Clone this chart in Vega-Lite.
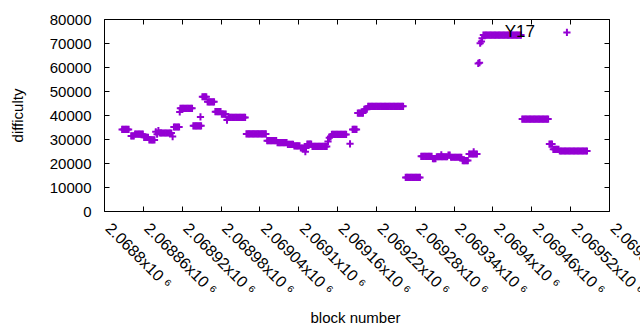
{
 "$schema": "https://vega.github.io/schema/vega-lite/v6.json",
 "width": 505,
 "height": 192,
 "autosize": {"type": "none"},
 "padding": {"left": 104, "top": 19, "right": 31, "bottom": 119},
 "background": "white",
 "config": {"view": {"stroke": "#000", "strokeWidth": 1}, "font": "Liberation Sans"},
 "datasets": {
  "pts": [
   {"b":2068828,"d":34000},{"b":2068830,"d":34000},{"b":2068832,"d":34000},{"b":2068834,"d":34000},{"b":2068836,"d":34000},{"b":2068838,"d":34000},
   {"b":2068842,"d":31300},{"b":2068844,"d":31300},{"b":2068846,"d":31300},
   {"b":2068848,"d":32000},{"b":2068850,"d":32000},{"b":2068852,"d":32000},{"b":2068854,"d":32000},{"b":2068856,"d":32000},{"b":2068858,"d":32000},{"b":2068860,"d":32000},
   {"b":2068862,"d":30700},{"b":2068864,"d":30700},{"b":2068866,"d":30700},{"b":2068868,"d":30700},
   {"b":2068870,"d":29600},{"b":2068872,"d":29600},{"b":2068874,"d":29600},{"b":2068876,"d":29600},{"b":2068878,"d":29600},
   {"b":2068880,"d":33000},{"b":2068882,"d":32000},{"b":2068884,"d":33500},{"b":2068886,"d":32500},
   {"b":2068888,"d":32500},{"b":2068890,"d":32500},{"b":2068892,"d":32500},{"b":2068894,"d":32500},{"b":2068896,"d":32500},{"b":2068898,"d":32500},{"b":2068900,"d":32500},{"b":2068902,"d":32500},{"b":2068904,"d":32500},{"b":2068906,"d":31000},
   {"b":2068908,"d":35000},{"b":2068910,"d":35000},{"b":2068912,"d":35000},{"b":2068914,"d":35000},{"b":2068916,"d":35000},
   {"b":2068917,"d":41300},
   {"b":2068918,"d":42800},{"b":2068920,"d":42800},{"b":2068922,"d":42800},{"b":2068924,"d":42800},{"b":2068926,"d":42800},{"b":2068928,"d":42800},{"b":2068930,"d":42800},{"b":2068932,"d":42800},{"b":2068934,"d":42800},{"b":2068936,"d":42800},
   {"b":2068938,"d":35500},{"b":2068940,"d":35500},{"b":2068942,"d":35500},{"b":2068944,"d":35500},{"b":2068946,"d":35500},{"b":2068948,"d":35500},{"b":2068950,"d":35500},
   {"b":2068949,"d":39200},
   {"b":2068952,"d":47600},{"b":2068954,"d":47600},{"b":2068956,"d":47600},{"b":2068958,"d":47600},
   {"b":2068960,"d":45500},{"b":2068962,"d":45500},{"b":2068964,"d":45500},{"b":2068966,"d":45500},{"b":2068968,"d":45500},{"b":2068970,"d":45500},
   {"b":2068972,"d":41400},{"b":2068974,"d":41400},{"b":2068976,"d":41400},{"b":2068978,"d":41400},{"b":2068980,"d":41400},
   {"b":2068982,"d":40400},{"b":2068984,"d":40400},{"b":2068986,"d":40400},{"b":2068988,"d":40400},
   {"b":2068990,"d":37900},
   {"b":2068992,"d":39000},{"b":2068994,"d":39000},{"b":2068996,"d":39000},{"b":2068998,"d":39000},{"b":2069000,"d":39000},{"b":2069002,"d":39000},{"b":2069004,"d":39000},{"b":2069006,"d":39000},{"b":2069008,"d":39000},{"b":2069010,"d":39000},{"b":2069012,"d":39000},{"b":2069014,"d":39000},{"b":2069016,"d":39000},{"b":2069018,"d":39000},
   {"b":2069020,"d":32100},{"b":2069022,"d":32100},{"b":2069024,"d":32100},{"b":2069026,"d":32100},{"b":2069028,"d":32100},{"b":2069030,"d":32100},{"b":2069032,"d":32100},{"b":2069034,"d":32100},{"b":2069036,"d":32100},{"b":2069038,"d":32100},{"b":2069040,"d":32100},{"b":2069042,"d":32100},{"b":2069044,"d":32100},{"b":2069046,"d":32100},{"b":2069048,"d":32100},{"b":2069050,"d":32100},
   {"b":2069052,"d":29300},{"b":2069054,"d":29300},{"b":2069056,"d":29300},{"b":2069058,"d":29300},{"b":2069060,"d":29300},{"b":2069062,"d":29300},{"b":2069064,"d":29300},{"b":2069066,"d":29300},
   {"b":2069068,"d":28500},{"b":2069070,"d":28500},{"b":2069072,"d":28500},{"b":2069074,"d":28500},{"b":2069076,"d":28500},{"b":2069078,"d":28500},{"b":2069080,"d":28500},{"b":2069082,"d":28500},
   {"b":2069084,"d":27800},{"b":2069086,"d":27800},{"b":2069088,"d":27800},{"b":2069090,"d":27800},{"b":2069092,"d":27800},
   {"b":2069094,"d":27100},{"b":2069096,"d":27100},{"b":2069098,"d":27100},{"b":2069100,"d":27100},{"b":2069102,"d":27100},
   {"b":2069104,"d":26250},{"b":2069106,"d":26250},{"b":2069108,"d":26250},{"b":2069110,"d":26250},{"b":2069112,"d":26250},
   {"b":2069111,"d":24700},
   {"b":2069114,"d":27900},{"b":2069116,"d":27900},{"b":2069118,"d":27900},{"b":2069120,"d":27900},
   {"b":2069122,"d":26900},{"b":2069124,"d":26900},{"b":2069126,"d":26900},{"b":2069128,"d":26900},{"b":2069130,"d":26900},{"b":2069132,"d":26900},{"b":2069134,"d":26900},{"b":2069136,"d":26900},{"b":2069138,"d":26900},{"b":2069140,"d":26900},{"b":2069142,"d":26900},{"b":2069144,"d":26900},
   {"b":2069146,"d":29000},{"b":2069148,"d":30500},{"b":2069150,"d":31000},
   {"b":2069152,"d":31900},{"b":2069154,"d":31900},{"b":2069156,"d":31900},{"b":2069158,"d":31900},{"b":2069160,"d":31900},{"b":2069162,"d":31900},{"b":2069164,"d":31900},{"b":2069166,"d":31900},{"b":2069168,"d":31900},{"b":2069170,"d":31900},{"b":2069172,"d":31900},{"b":2069174,"d":31900},
   {"b":2069180,"d":28000},
   {"b":2069184,"d":34000},{"b":2069186,"d":34000},{"b":2069188,"d":34000},{"b":2069190,"d":34000},
   {"b":2069192,"d":40800},{"b":2069194,"d":40800},{"b":2069196,"d":40800},{"b":2069198,"d":40800},{"b":2069200,"d":40800},
   {"b":2069202,"d":42400},{"b":2069204,"d":42400},{"b":2069206,"d":42400},
   {"b":2069208,"d":43600},{"b":2069210,"d":43600},{"b":2069212,"d":43600},{"b":2069214,"d":43600},{"b":2069216,"d":43600},{"b":2069218,"d":43600},{"b":2069220,"d":43600},{"b":2069222,"d":43600},{"b":2069224,"d":43600},{"b":2069226,"d":43600},{"b":2069228,"d":43600},{"b":2069230,"d":43600},{"b":2069232,"d":43600},{"b":2069234,"d":43600},{"b":2069236,"d":43600},{"b":2069238,"d":43600},{"b":2069240,"d":43600},{"b":2069242,"d":43600},{"b":2069244,"d":43600},{"b":2069246,"d":43600},{"b":2069248,"d":43600},{"b":2069250,"d":43600},{"b":2069252,"d":43600},{"b":2069254,"d":43600},{"b":2069256,"d":43600},{"b":2069258,"d":43600},{"b":2069260,"d":43600},{"b":2069262,"d":43600},
   {"b":2069266,"d":14000},{"b":2069268,"d":14000},{"b":2069270,"d":14000},{"b":2069272,"d":14000},{"b":2069274,"d":14000},{"b":2069276,"d":14000},{"b":2069278,"d":14000},{"b":2069280,"d":14000},{"b":2069282,"d":14000},{"b":2069284,"d":14000},{"b":2069286,"d":14000},{"b":2069288,"d":14000},
   {"b":2069290,"d":22800},{"b":2069292,"d":22800},{"b":2069294,"d":22800},{"b":2069296,"d":22800},{"b":2069298,"d":22800},{"b":2069300,"d":22800},{"b":2069302,"d":22800},{"b":2069304,"d":22800},{"b":2069306,"d":22800},
   {"b":2069308,"d":21800},{"b":2069310,"d":21800},{"b":2069312,"d":21800},
   {"b":2069314,"d":22600},{"b":2069316,"d":22600},{"b":2069318,"d":22600},{"b":2069320,"d":22600},{"b":2069322,"d":22600},{"b":2069324,"d":22600},{"b":2069326,"d":22600},{"b":2069328,"d":22600},{"b":2069330,"d":22600},
   {"b":2069321,"d":23400},
   {"b":2069332,"d":23300},{"b":2069334,"d":23300},
   {"b":2069336,"d":22400},{"b":2069338,"d":22400},{"b":2069340,"d":22400},{"b":2069342,"d":22400},{"b":2069344,"d":22400},{"b":2069346,"d":22400},{"b":2069348,"d":22400},{"b":2069350,"d":22400},{"b":2069352,"d":22400},
   {"b":2069354,"d":21000},{"b":2069356,"d":21000},{"b":2069358,"d":21000},{"b":2069360,"d":21000},{"b":2069362,"d":21000},
   {"b":2069364,"d":23750},{"b":2069366,"d":23750},{"b":2069368,"d":23750},{"b":2069370,"d":23750},{"b":2069372,"d":23750},{"b":2069374,"d":23750},{"b":2069376,"d":23750},
   {"b":2069371,"d":24600},
   {"b":2069378,"d":61500},{"b":2069380,"d":61800},
   {"b":2069381,"d":69900},{"b":2069383,"d":70600},
   {"b":2069384,"d":72000},
   {"b":2069386,"d":73300},{"b":2069388,"d":73300},{"b":2069390,"d":73300},{"b":2069392,"d":73300},{"b":2069394,"d":73300},{"b":2069396,"d":73300},{"b":2069398,"d":73300},{"b":2069400,"d":73300},{"b":2069402,"d":73300},{"b":2069404,"d":73300},{"b":2069406,"d":73300},{"b":2069408,"d":73300},{"b":2069410,"d":73300},{"b":2069412,"d":73300},{"b":2069414,"d":73300},{"b":2069416,"d":73300},{"b":2069418,"d":73300},{"b":2069420,"d":73300},{"b":2069422,"d":73300},{"b":2069424,"d":73300},{"b":2069426,"d":73300},{"b":2069428,"d":73300},{"b":2069430,"d":73300},{"b":2069432,"d":73300},{"b":2069434,"d":73300},{"b":2069436,"d":73300},{"b":2069438,"d":73300},{"b":2069440,"d":73300},{"b":2069442,"d":73300},{"b":2069444,"d":73300},
   {"b":2069446,"d":38300},{"b":2069448,"d":38300},{"b":2069450,"d":38300},{"b":2069452,"d":38300},{"b":2069454,"d":38300},{"b":2069456,"d":38300},{"b":2069458,"d":38300},{"b":2069460,"d":38300},{"b":2069462,"d":38300},{"b":2069464,"d":38300},{"b":2069466,"d":38300},{"b":2069468,"d":38300},{"b":2069470,"d":38300},{"b":2069472,"d":38300},{"b":2069474,"d":38300},{"b":2069476,"d":38300},{"b":2069478,"d":38300},{"b":2069480,"d":38300},{"b":2069482,"d":38300},{"b":2069484,"d":38300},{"b":2069486,"d":38300},
   {"b":2069488,"d":27900},{"b":2069490,"d":27900},{"b":2069492,"d":27900},
   {"b":2069494,"d":25700},{"b":2069496,"d":25700},{"b":2069498,"d":25700},{"b":2069500,"d":25700},{"b":2069502,"d":25700},
   {"b":2069504,"d":25000},{"b":2069506,"d":25000},{"b":2069508,"d":25000},{"b":2069510,"d":25000},{"b":2069512,"d":25000},{"b":2069514,"d":25000},{"b":2069516,"d":25000},{"b":2069518,"d":25000},{"b":2069520,"d":25000},{"b":2069522,"d":25000},{"b":2069524,"d":25000},{"b":2069526,"d":25000},{"b":2069528,"d":25000},{"b":2069530,"d":25000},{"b":2069532,"d":25000},{"b":2069534,"d":25000},{"b":2069536,"d":25000},{"b":2069538,"d":25000},{"b":2069540,"d":25000},{"b":2069542,"d":25000},{"b":2069544,"d":25000},{"b":2069546,"d":25000},
   {"b":2069515,"d":74400}
  ],
  "lbl": [{"b": 2069419, "d": 72300, "t": "Y17"}]
 },
 "layer": [
  {
   "data": {"name": "pts"},
   "mark": {"type": "point", "shape": "M-1,0L1,0M0,-1L0,1", "filled": false, "size": 52, "strokeWidth": 2, "color": "#9400d3", "opacity": 1},
   "encoding": {
    "x": {"field": "b", "type": "quantitative", "scale": {"domain": [2068800, 2069580], "nice": false, "zero": false},
     "axis": {"orient": "bottom", "values": [2068800,2068860,2068920,2068980,2069040,2069100,2069160,2069220,2069280,2069340,2069400,2069460,2069520,2069580],
      "labelExpr": "format(datum.value/1e6,'.6~f')+'x10 ⁶'", "labelAngle": 45, "labelAlign": "left", "labelBaseline": "alphabetic",
      "labelFontSize": 16, "labelColor": "#000", "labelPadding": 23, "labelOverlap": false, "labelFlush": false, "labelBound": false,
      "tickSize": -5, "tickColor": "#000", "domain": false, "grid": false,
      "title": "block number", "titleFontSize": 15, "titleFontWeight": "normal", "titleColor": "#000",
      "titleX": 251, "titleY": 111, "titleBaseline": "alphabetic", "titleAlign": "center"}},
    "y": {"field": "d", "type": "quantitative", "scale": {"domain": [0, 80000], "nice": false},
     "axis": {"orient": "left", "values": [0,10000,20000,30000,40000,50000,60000,70000,80000], "format": "d",
      "labelFontSize": 15, "labelColor": "#000", "labelPadding": 18, "labelBaseline": "middle",
      "tickSize": -5, "tickColor": "#000", "domain": false, "grid": false,
      "title": "difficulty", "titleFontSize": 15, "titleFontWeight": "normal", "titleColor": "#000",
      "titleX": -82, "titleY": 96, "titleAngle": -90, "titleBaseline": "alphabetic", "titleAlign": "center"}}
   }
  },
  {
   "data": {"name": "lbl"},
   "mark": {"type": "text", "align": "left", "baseline": "alphabetic", "fontSize": 17, "color": "#000", "font": "Liberation Sans"},
   "encoding": {
    "x": {"field": "b", "type": "quantitative", "scale": {"domain": [2068800, 2069580], "nice": false, "zero": false},
     "axis": {"orient": "top", "values": [2068800,2068860,2068920,2068980,2069040,2069100,2069160,2069220,2069280,2069340,2069400,2069460,2069520,2069580],
      "labels": false, "tickSize": -5, "tickColor": "#000", "domain": false, "grid": false, "title": null}},
    "y": {"field": "d", "type": "quantitative", "scale": {"domain": [0, 80000], "nice": false},
     "axis": {"orient": "right", "values": [0,10000,20000,30000,40000,50000,60000,70000,80000],
      "labels": false, "tickSize": -5, "tickColor": "#000", "domain": false, "grid": false, "title": null}},
    "text": {"field": "t"}
   }
  }
 ],
 "resolve": {"axis": {"x": "independent", "y": "independent"}}
}
